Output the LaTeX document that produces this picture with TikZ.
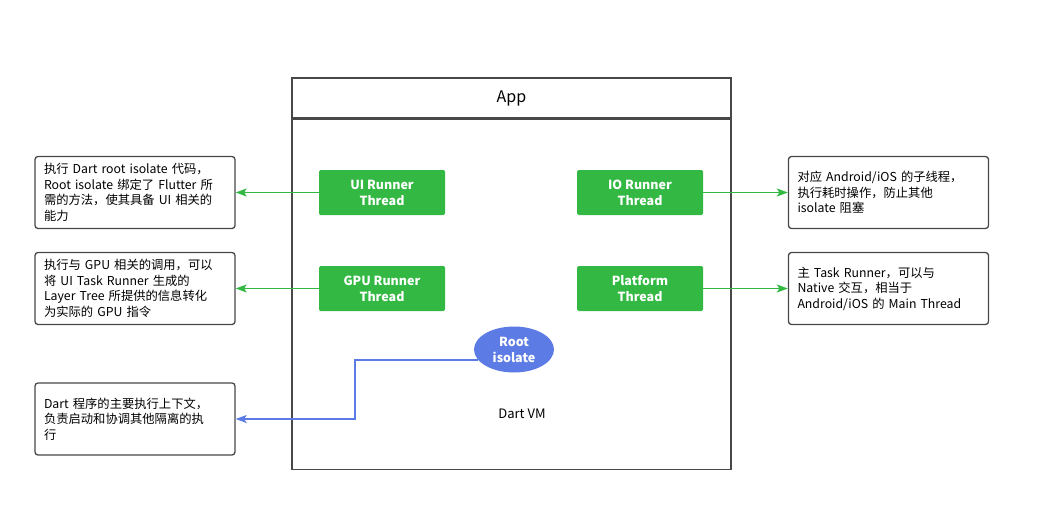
\documentclass[tikz,border=0pt]{standalone}
\usepackage{fontspec}
\setmainfont{Noto Sans CJK SC}
\usetikzlibrary{positioning, shapes.geometric, arrows.meta}
\definecolor{RunnerGreen}{RGB}{51, 185, 67}
\definecolor{IsolateBlue}{RGB}{92, 123, 228}
\definecolor{FrameGray}{RGB}{72, 72, 72}

\begin{document}
\begin{tikzpicture}[x=1pt, y=-1pt,
    runner/.style={rectangle, fill=RunnerGreen, text=white, rounded corners=1.5pt, minimum width=126pt, minimum height=45pt, inner sep=0pt, align=center, font=\fontsize{12.5}{16}\selectfont\bfseries},
    note/.style={rectangle, draw=FrameGray, line width=1.3pt, rounded corners=3pt, minimum width=200pt, minimum height=72pt, text width=182pt, inner xsep=9pt, align=left, font=\fontsize{12.3}{15.5}\selectfont},
    frame/.style={rectangle, draw=FrameGray, line width=1.5pt, minimum width=439pt, inner sep=0pt},
    link/.style={-{Stealth[length=11pt, width=8pt, inset=2.5pt]}, line width=1.4pt}]

\useasboundingbox (0,0) rectangle (1057,517);

% the App frame with the Dart VM inside
\node[frame, minimum height=40pt, font=\fontsize{16}{20}\selectfont] (apphead) at (511.5, 98) {App};
\node[frame, minimum height=350pt, below=0pt of apphead] (vm) {};
\node[font=\fontsize{13}{16}\selectfont] (vmlabel) at (522, 414) {Dart VM};

% the four task runners
\foreach \n/\x/\y/\t in {ui/382/192.5/UI Runner\\Thread, io/640/192.5/IO Runner\\Thread, gpu/382/288.5/GPU Runner\\Thread, platform/640/288.5/Platform\\Thread}
    \node[runner] (\n) at (\x, \y) {\t};

\node[ellipse, fill=IsolateBlue, text=white, minimum width=80pt, minimum height=46pt, inner sep=0pt, align=center, font=\fontsize{12.5}{16}\selectfont\bfseries] (root) at (514, 349.5) {Root\\isolate};

% the notes
\node[note] (uinote) at (135, 192.5) {执行 Dart root isolate 代码，\\Root isolate 绑定了 Flutter 所\\需的方法，使其具备 UI 相关的\\能力};
\node[note] (gpunote) at (135, 288.5) {执行与 GPU 相关的调用，可以\\将 UI Task Runner 生成的\\Layer Tree 所提供的信息转化\\为实际的 GPU 指令};
\node[note] (rootnote) at (135, 419) {Dart 程序的主要执行上下文，\\负责启动和协调其他隔离的执\\行};
\node[note] (ionote) at (888.5, 192.5) {对应 Android/iOS 的子线程，\\执行耗时操作，防止其他\\isolate 阻塞};
\node[note] (platformnote) at (888.5, 288.5) {主 Task Runner，可以与\\Native 交互，相当于\\Android/iOS 的 Main Thread};

% connectors
\foreach \a/\b in {ui/uinote, gpu/gpunote, io/ionote, platform/platformnote}
    \draw[link, RunnerGreen] (\a) -- (\b);

\coordinate (isobend) at (355, 0);
\draw[link, IsolateBlue] (root.196) -- (root.196 -| isobend) |- (rootnote.east);

\end{tikzpicture}
\end{document}
